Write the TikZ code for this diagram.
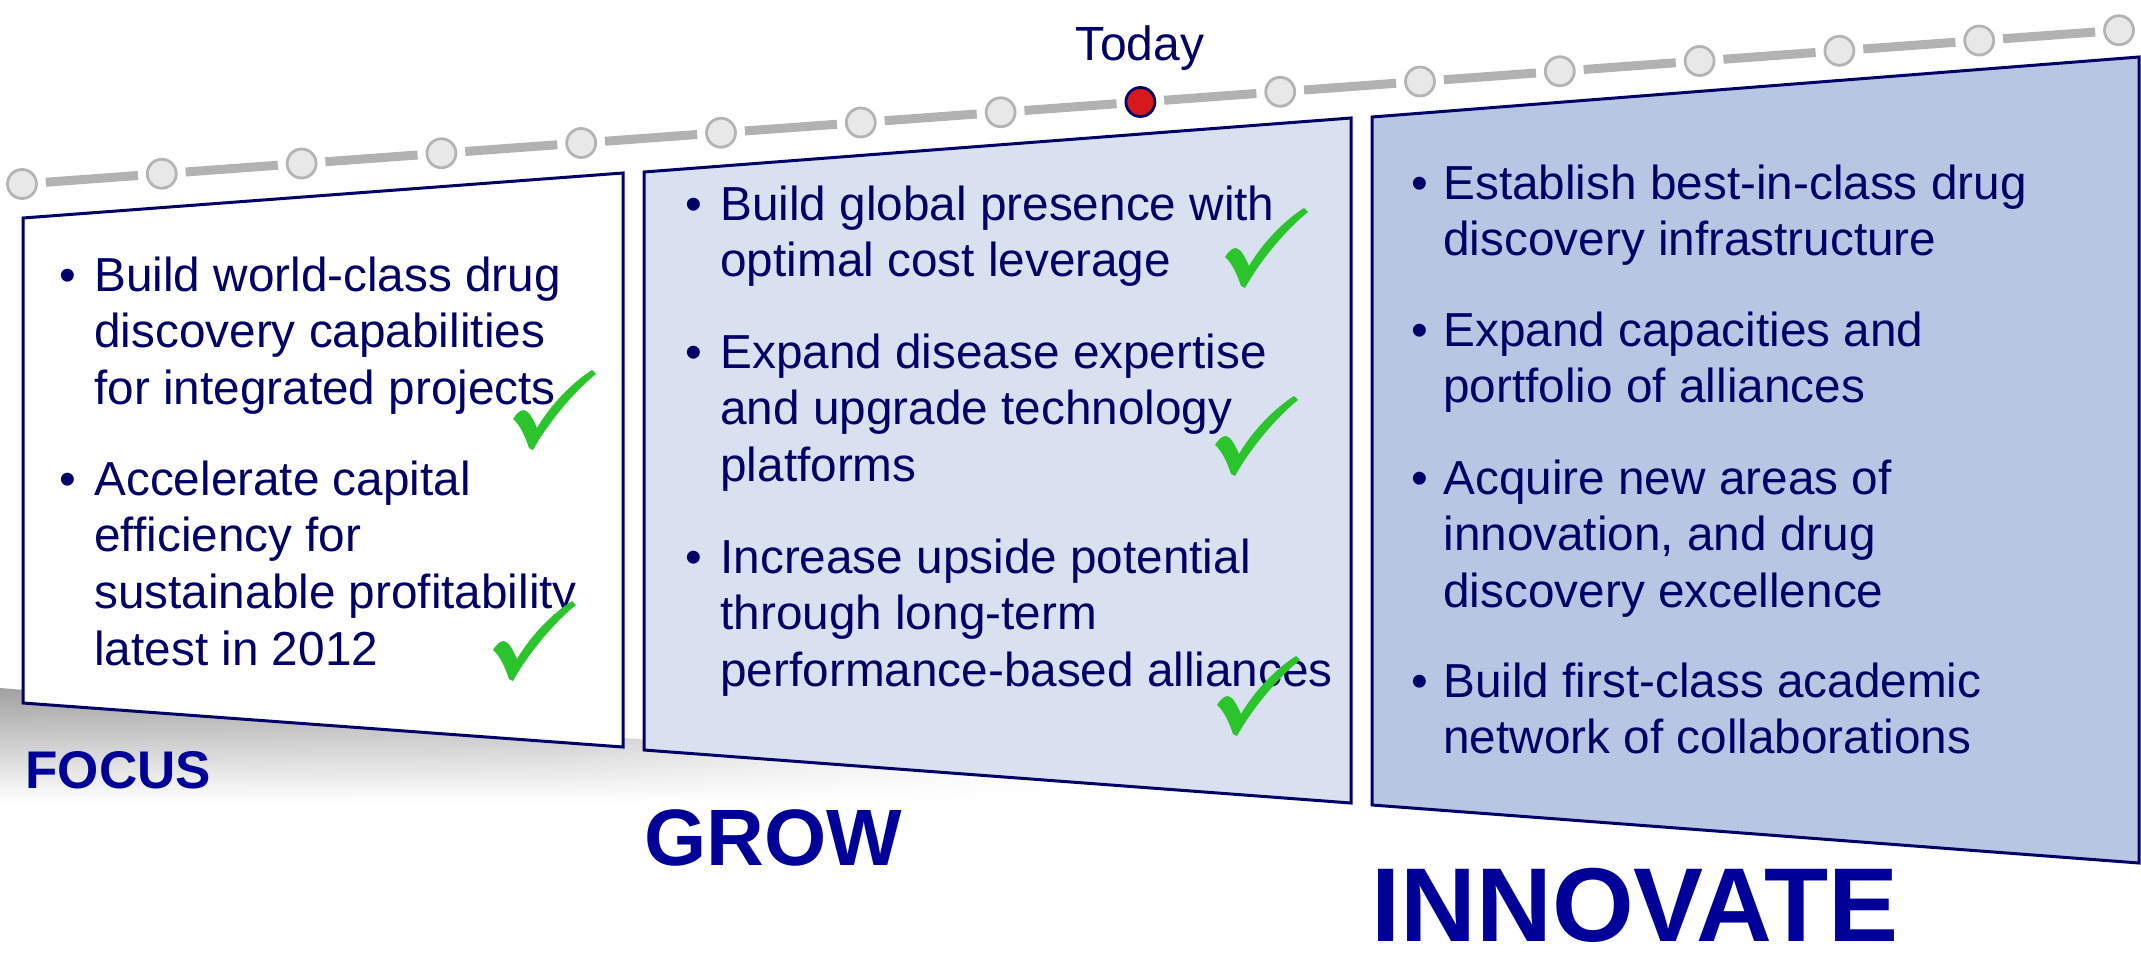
\documentclass[tikz,border=0pt]{standalone}
\usepackage{fontspec}
\setmainfont{Liberation Sans}
\usetikzlibrary{fadings}
\definecolor{navy}{RGB}{0,0,102}
\definecolor{headblue}{RGB}{0,0,153}
\definecolor{boxtwo}{RGB}{217,224,239}
\definecolor{boxthree}{RGB}{183,198,227}
\definecolor{tlgray}{RGB}{178,178,178}
\definecolor{dotedge}{RGB}{180,180,180}
\definecolor{dotfill}{RGB}{232,232,232}
\definecolor{todayred}{RGB}{215,25,28}
\definecolor{checkgreen}{RGB}{44,196,44}
\newcommand{\ltxt}[1]{\begin{tabular}[t]{@{}l@{}}#1\end{tabular}}
\tikzfading[name=shadowfade, left color=transparent!0, right color=transparent!100, middle color=transparent!10]
\begin{document}
\begin{tikzpicture}[x=0.5pt,y=-0.5pt,
  phasebox/.style={draw=navy, line width=1.5pt, line join=miter},
  bodytext/.style={inner sep=0pt, anchor=base west, text=navy,
    font=\fontsize{23.85}{28.35}\selectfont},
  bulletmark/.style={inner sep=0pt, anchor=base, text=navy,
    font=\fontsize{23.85}{28.35}\selectfont},
  phaselabel/.style={inner sep=0pt, anchor=base west, text=headblue},
  tldot/.style={circle, draw=dotedge, fill=dotfill, line width=1.4pt,
    minimum size=14.5pt, inner sep=0pt},
  todaydot/.style={circle, draw=navy, fill=todayred, line width=1.4pt,
    minimum size=14.5pt, inner sep=0pt},
  tlline/.style={draw=tlgray, line width=4.5pt, shorten <=4pt, shorten >=4pt},
  checkmark/.pic={\fill[checkgreen] (0,49) .. controls (3,44) and (7,40) .. (11,40)
      .. controls (16,41) and (20,49) .. (24,58)
      .. controls (38,34) and (60,12) .. (79,0) -- (83,4)
      .. controls (57,25) and (32,58) .. (20,80) -- (16,78)
      .. controls (12,66) and (7,55) .. (0,49) -- cycle;}
]
\useasboundingbox (0,0) rectangle (2141,953);

% floor shadow
\shade[top color=black!37, bottom color=white, path fading=shadowfade]
  (0,688) -- (1100,776) -- (1100,802) -- (0,802) -- cycle;

% phase boxes
\filldraw[phasebox, fill=white] (23,218) coordinate (f1) -- (623,173) coordinate (f2)
  -- (623,747) coordinate (f3) -- (23,703) coordinate (f4) -- cycle;
\filldraw[phasebox, fill=boxtwo] (644,172) coordinate (g1) -- (1351,118) coordinate (g2)
  -- (1351,803) coordinate (g3) -- (644,750) coordinate (g4) -- cycle;
\filldraw[phasebox, fill=boxthree] (1372,117) coordinate (i1) -- (2139,57) coordinate (i2)
  -- (2139,863) coordinate (i3) -- (1372,805) coordinate (i4) -- cycle;

% timeline
\foreach \i in {0,...,15}{
  \pgfmathsetmacro{\tx}{22+\i*139.8}
  \pgfmathsetmacro{\ty}{184-\i*10.25}
  \ifnum\i=8
    \node[todaydot] (t\i) at (\tx,\ty) {};
  \else
    \node[tldot] (t\i) at (\tx,\ty) {};
  \fi
}
\foreach \i [evaluate=\i as \j using int(\i+1)] in {0,...,14}{
  \draw[tlline] (t\i) -- (t\j);
}
\node[inner sep=0pt, anchor=base, text=navy, font=\fontsize{24}{28}\selectfont]
  (today) at (1140,61) {Today};

% FOCUS box text
\node[bulletmark] (fb1) at (68,291) {•};
\node[bodytext] (ft1) at (94,291) {\ltxt{Build world-class drug\\discovery capabilities\\for integrated projects}};
\node[bulletmark] (fb2) at (68,495) {•};
\node[bodytext] (ft2) at (94,495) {\ltxt{Accelerate capital\\efficiency for\\sustainable profitability\\latest in 2012}};

% GROW box text
\node[bulletmark] (gb1) at (694,220) {•};
\node[bodytext] (gt1) at (720,220) {\ltxt{Build global presence with\\optimal cost leverage}};
\node[bulletmark] (gb2) at (694,368) {•};
\node[bodytext] (gt2) at (720,368) {\ltxt{Expand disease expertise\\and upgrade technology\\platforms}};
\node[bulletmark] (gb3) at (694,573) {•};
\node[bodytext] (gt3) at (720,573) {\ltxt{Increase upside potential\\through long-term\\performance-based alliances}};

% INNOVATE box text
\node[bulletmark] (ib1) at (1420,199) {•};
\node[bodytext] (it1) at (1443,199) {\ltxt{Establish best-in-class drug\\discovery infrastructure}};
\node[bulletmark] (ib2) at (1420,346) {•};
\node[bodytext] (it2) at (1443,346) {\ltxt{Expand capacities and\\portfolio of alliances}};
\node[bulletmark] (ib3) at (1420,494) {•};
\node[bodytext] (it3) at (1443,494) {\ltxt{Acquire new areas of\\innovation, and drug\\discovery excellence}};
\node[bulletmark] (ib4) at (1420,697) {•};
\node[bodytext] (it4) at (1443,697) {\ltxt{Build first-class academic\\network of collaborations}};

% check marks
\pic (ck1) at (513,370) {checkmark};
\pic (ck2) at (493,601) {checkmark};
\pic (ck3) at (1225,208) {checkmark};
\pic (ck4) at (1215,396) {checkmark};
\pic (ck5) at (1217,656) {checkmark};

% phase labels
\node[phaselabel, font=\fontsize{26.5}{30}\selectfont\bfseries] (focus) at (25,788) {FOCUS};
\node[phaselabel, font=\fontsize{40}{46}\selectfont\bfseries] (grow) at (644,865) {GROW};
\node[phaselabel, font=\fontsize{52.5}{60}\selectfont\bfseries] (innovate) at (1371,941) {INNOVATE};
\end{tikzpicture}
\end{document}
